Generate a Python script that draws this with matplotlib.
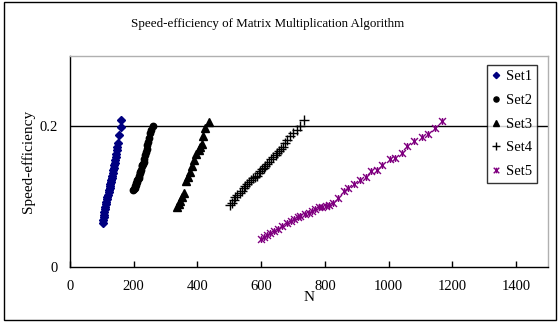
import matplotlib
matplotlib.use("Agg")
import matplotlib.pyplot as plt
from matplotlib.path import Path
from matplotlib.patches import Rectangle

# ---- data ----
n1 = [103,104,106,107,108,110,111,113,114,116,117,119,121,122,124,125,126,128,129,131,
      132,134,136,137,139,140,142,143,145,147,149,152,155,159,160]
e1 = [0.063,0.067,0.071,0.074,0.078,0.082,0.0855,0.089,0.093,0.0965,0.0997,0.103,0.107,0.110,0.112,
      0.115,0.118,0.121,0.123,0.126,0.130,0.134,0.1376,0.141,0.145,0.148,0.152,0.156,0.160,0.166,
      0.171,0.176,0.188,0.199,0.2095]

n2 = [199,201,203,204,206,208,210,211,213,215,217,219,220,222,225,227,229,231,233,236,
      238,241,243,246,249,252,255,259]
e2 = [0.109,0.111,0.113,0.115,0.117,0.119,0.121,0.123,0.125,0.127,0.130,0.133,0.135,0.138,0.143,
      0.145,0.147,0.149,0.153,0.159,0.163,0.168,0.173,0.178,0.184,0.190,0.195,0.201]

n3 = [336,341,346,352,358,365,371,377,383,390,396,404,409,414,417,425,435]
e3 = [0.086,0.090,0.094,0.0997,0.105,0.122,0.128,0.135,0.143,0.152,0.161,0.166,0.171,0.175,
      0.186,0.197,0.206]

n4 = [503,509,514,519,524,532,540,545,550,556,561,567,574,580,587,592,597,603,608,613,
      618,625,631,638,645,650,655,662,669,675,681,690,700,711,721,734]
e4 = [0.088,0.091,0.095,0.099,0.102,0.105,0.108,0.112,0.115,0.118,0.121,0.124,0.126,0.128,0.130,
      0.134,0.137,0.139,0.141,0.144,0.147,0.150,0.153,0.156,0.159,0.162,0.165,0.168,0.171,0.176,
      0.180,0.186,0.190,0.195,0.200,0.2085]

n5 = [600,608,618,629,639,652,666,681,692,704,715,723,736,749,760,770,781,791,802,812,
      826,841,860,873,891,910,928,945,962,980,1004,1019,1041,1059,1080,1106,1124,1146,1166]
e5 = [0.0397,0.043,0.046,0.0487,0.0515,0.0544,0.0577,0.0629,0.0652,0.068,0.0705,0.0723,0.0747,
      0.077,0.0794,0.0823,0.0846,0.0856,0.087,0.0884,0.0917,0.0979,0.108,0.1125,0.1177,0.1234,
      0.1286,0.1366,0.1376,0.1447,0.1541,0.1556,0.1626,0.1716,0.1787,0.1849,0.1896,0.1981,0.2071]

labels = ["Set1", "Set2", "Set3", "Set4", "Set5"]
x_ticks = [0, 200, 400, 600, 800, 1000, 1200, 1400]
y_ticks = [0, 0.2]
y_tick_labels = ["0", "0.2"]

# ---- style ----
plt.rcParams['font.family'] = ['Liberation Serif', 'DejaVu Serif']

star = Path([(-1, -1), (1, 1), (-1, 1), (1, -1), (0, -1), (0, 1)],
            [Path.MOVETO, Path.LINETO, Path.MOVETO, Path.LINETO, Path.MOVETO, Path.LINETO])

fig = plt.figure(figsize=(5.6, 3.22), dpi=100)
ax = fig.add_axes([70/560, 55/322, (548-70)/560, (267-56)/322])

ax.axhline(0.2, color='black', lw=1.0, zorder=1)

ax.plot(n1, e1, ls='none', marker='D', ms=4.0, color='#000080', label=labels[0], zorder=3)
ax.plot(n2, e2, ls='none', marker='o', ms=4.6, color='black', label=labels[1], zorder=3)
ax.plot(n3, e3, ls='none', marker='^', ms=5.6, color='black', label=labels[2], zorder=3)
ax.plot(n4, e4, ls='none', marker='+', ms=7.5, mew=1.0, color='black', label=labels[3], zorder=3)
ax.plot(n5, e5, ls='none', marker=star, ms=5, mew=1.0, color='#800080', label=labels[4], zorder=3)

ax.set_xlim(0, 1500)
ax.set_ylim(0, 0.3)
ax.set_xticks(x_ticks)
ax.set_yticks(y_ticks)
ax.set_yticklabels(y_tick_labels)
ax.tick_params(axis='x', direction='in', length=4, width=1, labelsize=10.5, pad=9)
ax.tick_params(axis='y', length=0, labelsize=10.5, pad=9)

for s in ['left', 'bottom']:
    ax.spines[s].set_color('black')
    ax.spines[s].set_linewidth(1.0)
for s in ['top', 'right']:
    ax.spines[s].set_color('#b0b0b0')
    ax.spines[s].set_linewidth(1.0)

ax.set_xlabel("N", fontsize=11, labelpad=-1)
ax.set_ylabel("Speed-efficiency", fontsize=11, labelpad=3)
fig.text(268/560, 1 - 24/322, "Speed-efficiency of Matrix Multiplication Algorithm",
         ha='center', va='center', fontsize=9.4)

leg = ax.legend(loc='upper right', bbox_to_anchor=(537/560, 1 - 65/322),
                bbox_transform=fig.transFigure, borderaxespad=0, fontsize=10.5,
                frameon=True, fancybox=False, shadow=False, handlelength=0.6,
                handletextpad=0.35, labelspacing=0.72, borderpad=0.35, markerscale=0.8)
leg.get_frame().set_edgecolor('black')
leg.get_frame().set_linewidth(1.0)

fig.patches.append(Rectangle((4/560, 2/322), (556-4)/560, (320-2)/322, transform=fig.transFigure,
                             fill=False, edgecolor='black', lw=1.0))

fig.savefig("out.png", dpi=100)
